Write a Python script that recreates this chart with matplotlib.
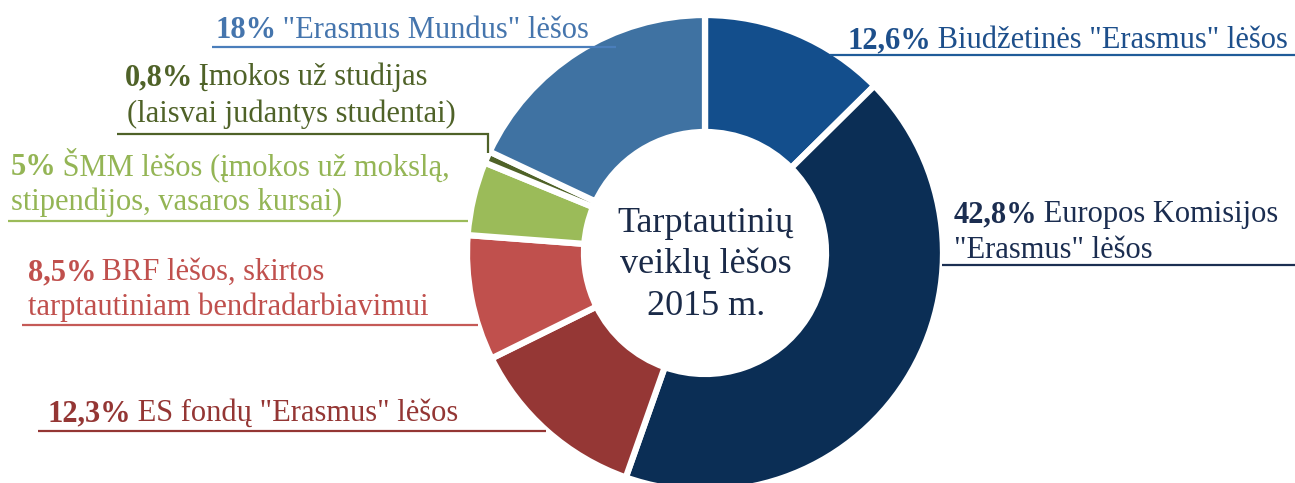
import matplotlib
matplotlib.use("Agg")
import matplotlib.pyplot as plt

W, H = 1295, 483

# ---- data ----
values = [12.6, 42.8, 12.3, 8.5, 5.0, 0.8, 18.0]
pct_labels = ["12,6%", "42,8%", "12,3%", "8,5%", "5%", "0,8%", "18%"]
desc_lines = [
    [' Biudžetinės "Erasmus" lėšos'],
    [' Europos Komisijos', '"Erasmus" lėšos'],
    [' ES fondų "Erasmus" lėšos'],
    [' BRF lėšos, skirtos', 'tarptautiniam bendradarbiavimui'],
    [' ŠMM lėšos (įmokos už mokslą,', 'stipendijos, vasaros kursai)'],
    [' Įmokos už studijas', '(laisvai judantys studentai)'],
    [' "Erasmus Mundus" lėšos'],
]
center_lines = ["Tarptautinių", "veiklų lėšos", "2015 m."]

wedge_colors = ["#134E8C", "#0B2E55", "#953735", "#C0504D", "#9BBB59", "#4F6228", "#3F72A2"]
text_colors = ["#1D4F8B", "#1B2D50", "#943634", "#C0504D", "#94B555", "#4F6228", "#4575AD"]
line_colors = ["#1F5C99", "#1B2F52", "#943634", "#C55A57", "#9BBB59", "#4F6228", "#4A7EBB"]

# ---- layout (image pixel coords, y downward) ----
layout = [
    dict(x=848, base=[48], x2=None, uy=55, ux=(830, 1295)),
    dict(x=954, base=[222, 258], x2=954, uy=265, ux=(942, 1295)),
    dict(x=48, base=[421], x2=None, uy=431, ux=(38, 546)),
    dict(x=28, base=[280, 315], x2=28, uy=325, ux=(22, 478)),
    dict(x=11, base=[175, 210], x2=11, uy=221, ux=(8, 468)),
    dict(x=125, base=[85, 122], x2=127, uy=134, ux=(117, 488), vdrop=153),
    dict(x=216, base=[38], x2=None, uy=47, ux=(212, 616)),
]

FONT = "Liberation Serif"
FS = 22

fig = plt.figure(figsize=(W / 100, H / 100), dpi=100)
ax = fig.add_axes([0, 0, 1, 1])

cx, cy, R, Rin = 705, 253, 238, 121
ax.pie(values, colors=wedge_colors, startangle=90, counterclock=False,
       radius=R, center=(cx, H - cy),
       wedgeprops=dict(width=R - Rin, edgecolor="white", linewidth=4.5))
ax.set_xlim(0, W)
ax.set_ylim(0, H)
ax.set_aspect("equal")
ax.axis("off")

renderer = fig.canvas.get_renderer()

for i, lay in enumerate(layout):
    col = text_colors[i]
    t = ax.text(lay["x"], H - lay["base"][0], pct_labels[i], fontsize=FS, family=FONT,
                fontweight="bold", color=col, va="baseline", ha="left")
    bb = t.get_window_extent(renderer)
    ax.text(bb.x1 - 2, H - lay["base"][0], desc_lines[i][0], fontsize=FS, family=FONT,
            color=col, va="baseline", ha="left")
    if len(desc_lines[i]) > 1:
        ax.text(lay["x2"], H - lay["base"][1], desc_lines[i][1], fontsize=FS, family=FONT,
                color=col, va="baseline", ha="left")
    lc = line_colors[i]
    xs = [lay["ux"][0], lay["ux"][1]]
    ys = [H - lay["uy"], H - lay["uy"]]
    if "vdrop" in lay:
        xs.append(lay["ux"][1])
        ys.append(H - lay["vdrop"])
    ax.plot(xs, ys, color=lc, lw=1.6, solid_capstyle="butt", solid_joinstyle="miter", zorder=3)

for j, (txt, b) in enumerate(zip(center_lines, [232, 273, 315])):
    ax.text(706, H - b, txt, fontsize=26, family=FONT, color="#1A2A48",
            va="baseline", ha="center")

fig.savefig("out.png", dpi=100)
